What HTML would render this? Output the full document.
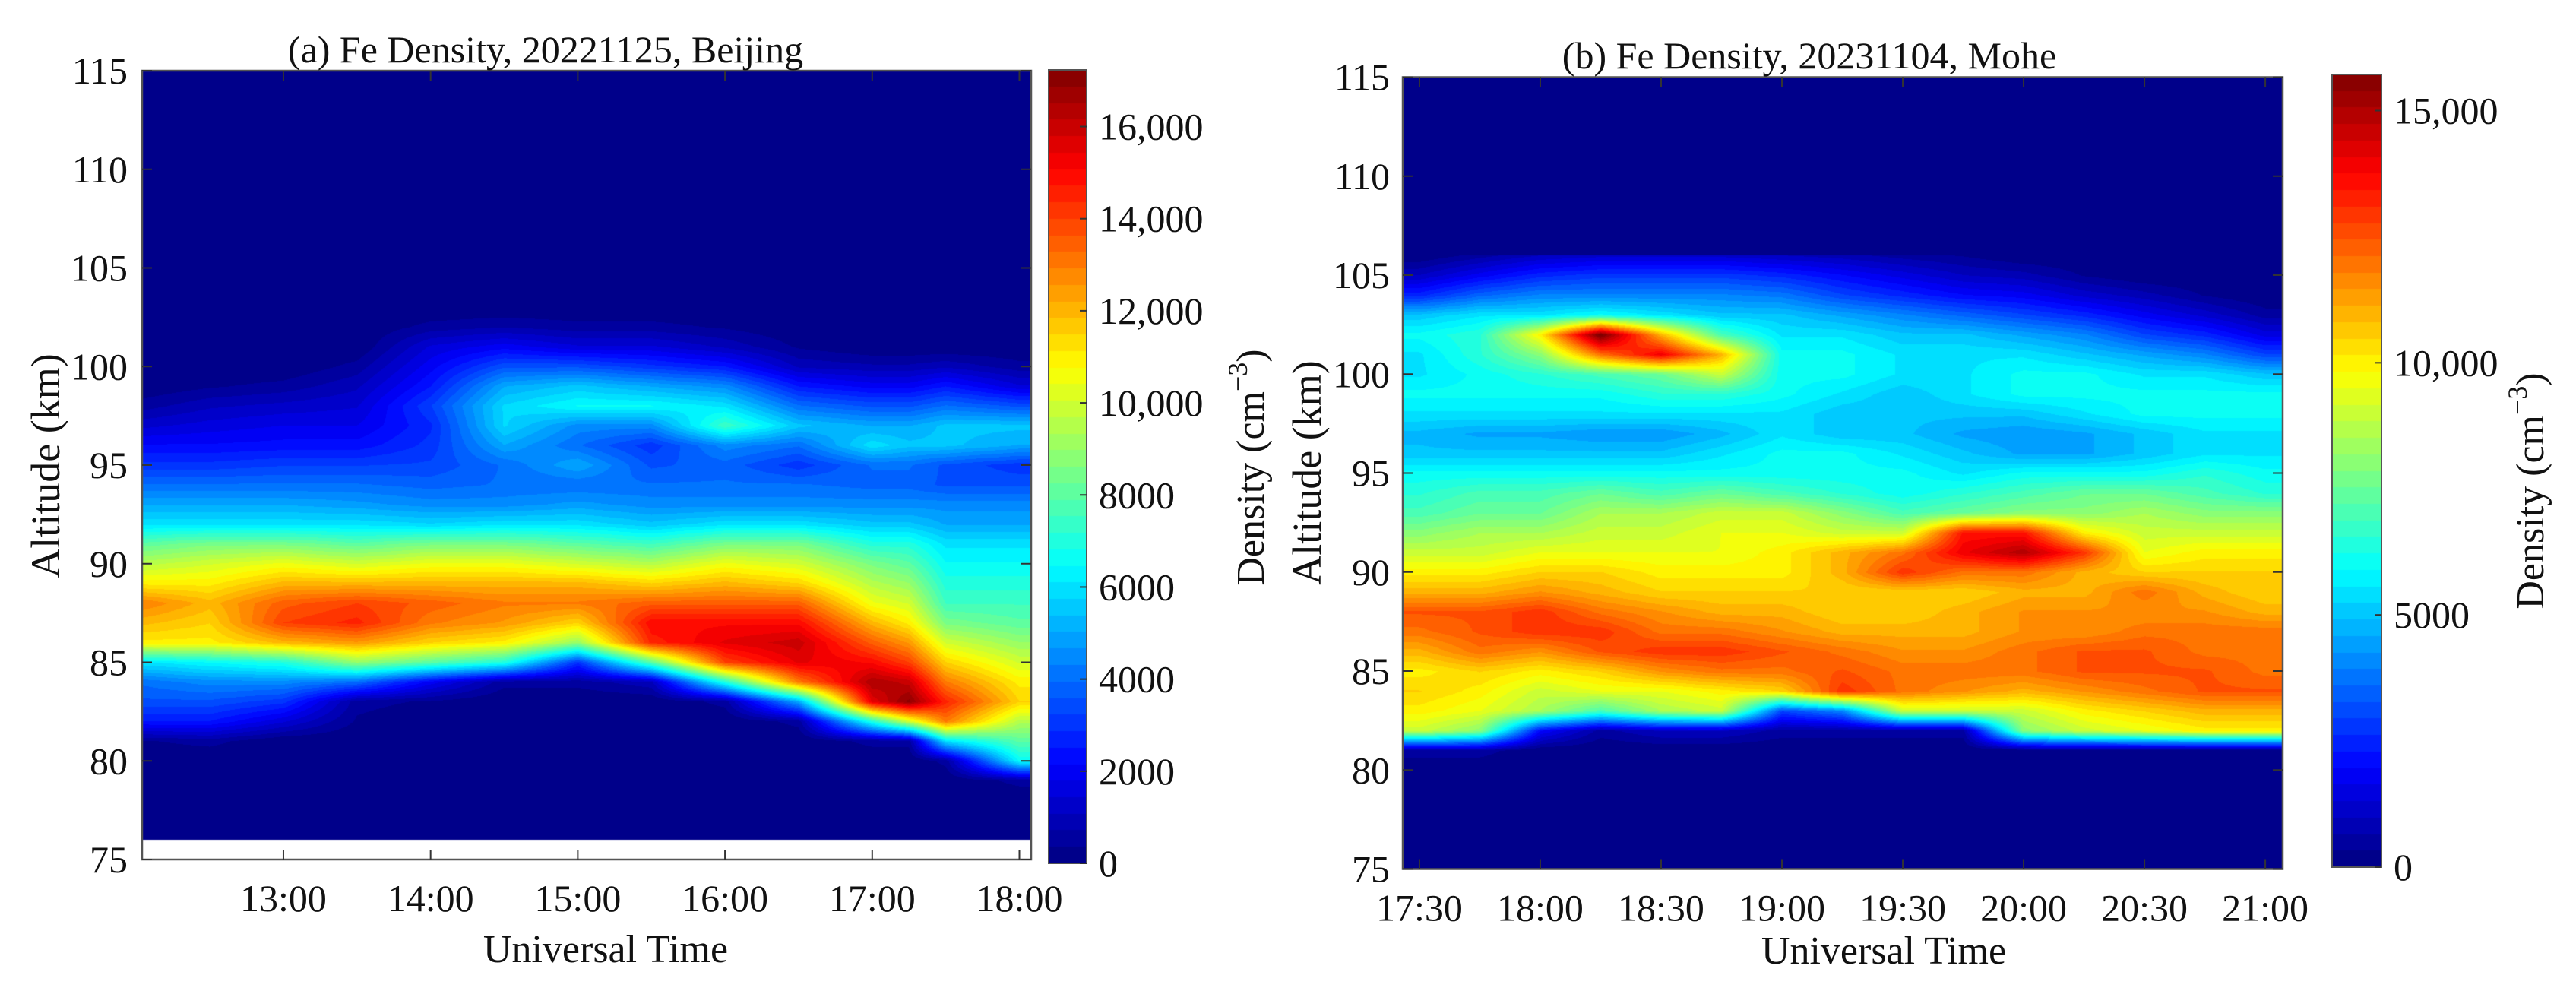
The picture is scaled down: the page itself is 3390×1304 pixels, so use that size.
<!DOCTYPE html>
<html><head><meta charset="utf-8"><title>Fe Density</title>
<style>
html,body{margin:0;padding:0;background:#fff;}
#wrap{position:relative;width:3390px;height:1304px;overflow:hidden;background:#fff;}
canvas{position:absolute;}
svg{position:absolute;left:0;top:0;}
text{font-family:"Liberation Serif",serif;fill:#111;}
</style></head>
<body>
<div id="wrap">
<canvas id="cA"></canvas>
<canvas id="cB"></canvas>
<canvas id="cbA"></canvas>
<canvas id="cbB"></canvas>
<svg id="ov" width="3390" height="1304"></svg>
</div>
<script>
// ---------- Data: panel (a) Beijing, density in thousands cm^-3 ----------
const leftTimes = [12.0,12.5,13.0,13.5,14.0,14.5,15.0,15.5,16.0,16.5,17.0,17.25,17.5,18.0];
const leftAlts = [78,79,80,81,82,83,84,85,86,87,88,89,90,91,92,93,94,95,96,97,98,99,100,101,102,103,104];
const leftDensity = [
 [0,0,0,0.3,2.5,3.5,4,6,11,12,13,11,9.5,8,6,5,4,3,2.2,1.3,0.5,0,0,0,0,0,0],
 [0,0,0,0.5,2.5,3.5,4.5,6.5,11,11.5,12,11,10,8.5,6,5,4,3,2.2,1.6,1,0.3,0,0,0,0,0],
 [0,0,0,0,1.5,3,4.5,7,12,14,13.5,12,10.5,8.5,6,5,4,3.2,2.3,1.8,1.2,0.5,0,0,0,0,0],
 [0,0,0,0,0.3,0.5,4,9,12.5,14.5,14,12,10,8,6,4.8,4,3.2,2.3,1.8,1.4,1,0.5,0,0,0,0],
 [0,0,0,0,0,0.3,2,8,11.5,13,13.5,12,10.5,8.5,5.8,4.5,3.8,3.3,3,2.8,3.2,2.5,2,1.5,0.5,0,0],
 [0,0,0,0,0,0,0.5,7,11,12.5,13,12,10.5,8.5,6,4.5,4,4,5,5.8,5.8,5,3.5,2,0.7,0,0],
 [0,0,0,0,0,0,0.5,3,9,11.5,13,12,10,8,6,4.8,4,5,4,4.5,6.5,5.5,3.5,1.5,0.5,0,0],
 [0,0,0,0,0,0,1,8,14.5,15,13.5,11.5,9.5,7.5,5.5,4.5,4,3.5,3,4.5,6.5,5,3,1.5,0.5,0,0],
 [0,0,0,0,0,0.5,7,14,15.5,15,13.5,12,10.5,8.5,6,4.5,4,3.8,4.5,7.5,6,4.5,2.5,1,0.3,0,0],
 [0,0,0,0,0.5,5,13,15.5,16,15,13.5,11.5,10,8.5,6,4.5,4,3,4,5.5,4,2.5,1,0.3,0,0,0],
 [0,0,0,0.5,7,15.5,16.5,15,13.5,12,10.5,9.5,8.5,7,5.5,4.5,3.8,4,6,5,3.5,2,0.8,0,0,0,0],
 [0,0,0,0.5,10,17,16,14,12.5,11,10,9,8,7,5.5,4.5,3.8,4,5.5,5,3.5,2,0.8,0,0,0,0],
 [0,0,0.5,6,13,14.5,13,11.5,10,8.5,7.5,7,6.5,6,5,4.5,3.5,3.5,5.5,5.5,4,2.5,1,0,0,0,0],
 [0,0.5,6.5,8,9.5,11.5,11,10,9,8,7.5,7,6.5,6,5,4.5,3.5,3,5,5.5,3.5,1.5,0.5,0,0,0,0]
];
const leftXTicks = [13,14,15,16,17,18];
const leftXTickLabels = ["13:00","14:00","15:00","16:00","17:00","18:00"];
const leftCbTicks = [0,2000,4000,6000,8000,10000,12000,14000,16000];
const leftCbLabels = ["0","2000","4000","6000","8000","10,000","12,000","14,000","16,000"];

// ---------- Data: panel (b) Mohe ----------
const rightTimes = [17.5,17.75,18.0,18.25,18.5,18.75,19.0,19.25,19.5,19.75,20.0,20.25,20.5,20.75,21.0];
const rightAlts = [80,81,82,83,84,85,86,87,88,89,90,91,92,93,94,95,96,97,98,99,100,101,102,103,104,105,106];
const rightDensity = [
 [0,0.5,9,10,10.5,10,11,12,12.5,11,10,9,8,7,6.5,6,5,4.8,5.5,6,5.5,5.5,6,5,2.5,1,0],
 [0,0.5,8,9.5,10,10.5,12,12.5,12.5,11,10,9,8.5,7.5,7,6,5,4.5,5.5,6,6,6.5,6.5,5.5,3.5,1.8,0.5],
 [0,0,2,8.5,9,10,11.5,13,13,11.5,10.5,9.5,8.5,7.5,7,6,5,4.5,5.5,6,6.5,8,10,5.5,4,2.5,1],
 [0,0,0.5,7,9.5,10.5,12.5,13,12,11,10.5,9.5,9,8.5,7.5,6,5,4.3,5.5,6,7,12,16,6,4,2.8,1.2],
 [0,0,1,8.5,9.5,11.5,13,12,11.5,10.5,10,9.5,9,8.5,7,6,5,4.3,5.5,6.5,7.5,14,11,5.5,4,2.8,1.2],
 [0,0,1,9,10,12,13,12,11,10.5,10,9.5,9.5,9,7.5,6,5.5,4.8,5.5,6.5,9,11,7,5,4,2.8,1.2],
 [0,0,0.5,3,10.5,12,12.5,11.5,11,10.5,10,10,9.5,9,7,6,6,5.5,5.5,6,6,6,5.5,5,3.8,2.5,1],
 [0,0,0.5,4,13,12.5,12,11,10.5,10.5,11,11,9,8,6.5,6,6,5,5,5.5,6,6,5.5,4.5,3,2,0.8],
 [0,0,0.5,9,12,12,11.5,11,10.5,10.5,13,12,9,7,6,6,5.5,5,5,5,5.5,5.5,5,4,2.5,1.5,0.5],
 [0,0,0.5,9,11.5,12,11.5,11,11,10.5,12,14,13.5,7.5,6.5,5.5,5,4.5,5,5.5,5.5,5.5,5,3.5,2,1,0.3],
 [0,0,8,9,11,12,12,11.5,11.5,11,12,15,13.5,8,7,6,4.5,4.3,5,6,6,5.5,4.5,3,1.8,0.8,0],
 [0,0,9,10,11.5,12.5,12.5,11.5,11.5,11,11,13,10,8,7.5,6,4.5,4.5,5.5,6,6,5,4,2.5,1.2,0.3,0],
 [0,0,9.5,10.5,12,12.5,12.5,12,11.5,12,10.5,9.5,9,8.5,7.5,6,5,5,6,6,5.5,4.5,3,1.8,0.8,0,0],
 [0,0,10,11,12.5,12.5,12,12,11.5,11,10.5,10,9,8,7,6.5,5.5,5.5,6,6,5.5,4,2.5,1.2,0.3,0,0],
 [0,0,10,11,12.5,12,12,12,11,10.5,10.5,10,9,8,6.5,6,5.5,5.5,6,6,5,3,1.5,0.5,0,0,0]
];
const rightXTicks = [17.5,18,18.5,19,19.5,20,20.5,21];
const rightXTickLabels = ["17:30","18:00","18:30","19:00","19:30","20:00","20:30","21:00"];
const rightCbTicks = [0,5000,10000,15000];
const rightCbLabels = ["0","5000","10,000","15,000"];
const yTicks = [75,80,85,90,95,100,105,110,115];

// ---------- Layout ----------
const PA = {x0:187,x1:1357,y0:93,y1:1131,t0:12.04,t1:18.08,dataMin:76,vmax:17.23,
  cb:{x0:1380,x1:1430,y0:92,y1:1136}};
const PB = {x0:1846,x1:3004,y0:101.5,y1:1143.5,t0:17.431,t1:21.072,dataMin:75,vmax:15.716,
  cb:{x0:3069,x1:3134,y0:98,y1:1141}};
const LEVELS = 48;
const FONT = '"Liberation Serif", serif';

function jet(v){
  const c=x=>Math.max(0,Math.min(1,x));
  return [c(1.5-Math.abs(4*v-3))*255, c(1.5-Math.abs(4*v-2))*255, c(1.5-Math.abs(4*v-1))*255];
}
function interp1(arr, v){
  if(v<=arr[0]) return [0,0];
  const n=arr.length;
  if(v>=arr[n-1]) return [n-2,1];
  for(let i=0;i<n-1;i++){ if(v<=arr[i+1]) return [i,(v-arr[i])/(arr[i+1]-arr[i])]; }
  return [n-2,1];
}
function sample(times, alts, grid, t, a){
  if(a<alts[0]||a>alts[alts.length-1]) return 0;
  const [i,ft]=interp1(times,t), [j,fa]=interp1(alts,a);
  const v00=grid[i][j], v01=grid[i][j+1], v10=grid[i+1][j], v11=grid[i+1][j+1];
  return (v00*(1-fa)+v01*fa)*(1-ft)+(v10*(1-fa)+v11*fa)*ft;
}
function drawHeat(id, P, times, alts, grid){
  const cv=document.getElementById(id);
  const w=Math.round(P.x1-P.x0), h=Math.round(P.y1-P.y0);
  cv.width=w; cv.height=h; cv.style.left=P.x0+'px'; cv.style.top=P.y0+'px';
  const ctx=cv.getContext('2d'); const img=ctx.createImageData(w,h); const d=img.data;
  for(let y=0;y<h;y++){
    const a=115-(y+0.5)/h*40;
    for(let x=0;x<w;x++){
      const k=(y*w+x)*4;
      if(a<P.dataMin){d[k]=d[k+1]=d[k+2]=255;d[k+3]=255;continue;}
      const t=P.t0+(x+0.5)/w*(P.t1-P.t0);
      let v=sample(times,alts,grid,t,a)/P.vmax;
      v=Math.max(0,Math.min(1,Math.floor(v*LEVELS)/LEVELS+0.5/LEVELS));
      const c=jet(v); d[k]=c[0];d[k+1]=c[1];d[k+2]=c[2];d[k+3]=255;
    }
  }
  ctx.putImageData(img,0,0);
}
function drawCb(id, cb){
  const cv=document.getElementById(id);
  const w=cb.x1-cb.x0, h=cb.y1-cb.y0;
  cv.width=w; cv.height=h; cv.style.left=cb.x0+'px'; cv.style.top=cb.y0+'px';
  const ctx=cv.getContext('2d');
  for(let y=0;y<h;y++){
    let v=1-(y+0.5)/h; v=Math.floor(v*LEVELS)/LEVELS+0.5/LEVELS;
    const c=jet(v); ctx.fillStyle=`rgb(${c[0]|0},${c[1]|0},${c[2]|0})`; ctx.fillRect(0,y,w,1);
  }
}
drawHeat('cA',PA,leftTimes,leftAlts,leftDensity);
drawHeat('cB',PB,rightTimes,rightAlts,rightDensity);
drawCb('cbA',PA.cb); drawCb('cbB',PB.cb);

// ---------- Axes overlay ----------
const NS='http://www.w3.org/2000/svg';
const ov=document.getElementById('ov');
function mk(tag, attrs, parent){
  const e=document.createElementNS(NS,tag);
  for(const k in attrs) e.setAttribute(k,attrs[k]);
  (parent||ov).appendChild(e); return e;
}
function txt(s,x,y,size,anchor,name){
  const e=mk('text',{x:x,y:y,'font-size':size,'text-anchor':anchor||'middle','font-family':FONT,fill:'#111'});
  e.textContent=s;
  
  
  return e;
}
function densityLabel(cx,cy,name){
  const e=mk('text',{x:0,y:0,'font-size':52,'text-anchor':'middle','font-family':FONT,fill:'#111',transform:`translate(${cx},${cy}) rotate(-90)`});
  
  
  const t1=mk('tspan',{},e); t1.textContent='Density (cm';
  const t2=mk('tspan',{dy:-22,'font-size':36},e); t2.textContent='\u22123';
  const t3=mk('tspan',{dy:22},e); t3.textContent=')';
}
function axes(P, xt, xl, cbTicks, cbLabels, ylabRight, prefix){
  const xs=t=>P.x0+(t-P.t0)/(P.t1-P.t0)*(P.x1-P.x0);
  const ys=a=>P.y0+(115-a)/40*(P.y1-P.y0);
  const box=mk('rect',{x:P.x0,y:P.y0,width:P.x1-P.x0,height:P.y1-P.y0,fill:'none',stroke:'#555','stroke-width':2.5});
  
  
  xt.forEach((t,i)=>{
    const x=xs(t);
    const tk=mk('line',{x1:x,x2:x,y1:P.y1,y2:P.y1-13,stroke:'#333','stroke-width':2});
    
    
    const tk2=mk('line',{x1:x,x2:x,y1:P.y0,y2:P.y0+13,stroke:'#333','stroke-width':2});
    
    
    txt(xl[i],x,P.y1+68,50,'middle',prefix+'-x-tick-label');
  });
  yTicks.forEach(a=>{
    const y=ys(a);
    const tk=mk('line',{x1:P.x0,x2:P.x0+13,y1:y,y2:y,stroke:'#333','stroke-width':2});
    
    
    const tk2=mk('line',{x1:P.x1,x2:P.x1-13,y1:y,y2:y,stroke:'#333','stroke-width':2});
    
    
    txt(String(a),ylabRight,y+17,50,'end',prefix+'-y-tick-label');
  });
  const cb=P.cb;
  const cbr=mk('rect',{x:cb.x0,y:cb.y0,width:cb.x1-cb.x0,height:cb.y1-cb.y0,fill:'none',stroke:'#555','stroke-width':2});
  
  
  cbTicks.forEach((v,i)=>{
    const y=cb.y1-v/(P.vmax*1000)*(cb.y1-cb.y0);
    const tk=mk('line',{x1:cb.x1,x2:cb.x1-9,y1:y,y2:y,stroke:'#333','stroke-width':2});
    
    
    txt(cbLabels[i],cb.x1+16,y+17,50,'start',prefix+'-colorbar-label');
  });
}
axes(PA,leftXTicks,leftXTickLabels,leftCbTicks,leftCbLabels,168,'a');
axes(PB,rightXTicks,rightXTickLabels,rightCbTicks,rightCbLabels,1829,'b');

txt('(a)  Fe Density, 20221125, Beijing',718,82,50,'middle','title-a');
txt('(b)  Fe Density, 20231104, Mohe',2381,90,50,'middle','title-b');
txt('Universal Time',797,1266,52,'middle','x-axis-title-a');
txt('Universal Time',2479,1268,52,'middle','x-axis-title-b');
const ya=mk('text',{x:0,y:0,'font-size':54,'text-anchor':'middle','font-family':FONT,fill:'#111',transform:'translate(78,613) rotate(-90)'});
ya.textContent='Altitude (km)';


const yb=mk('text',{x:0,y:0,'font-size':54,'text-anchor':'middle','font-family':FONT,fill:'#111',transform:'translate(1738,622) rotate(-90)'});
yb.textContent='Altitude (km)';


densityLabel(1663,615,'colorbar-title-a');
densityLabel(3347,646,'colorbar-title-b');
</script>
</body></html>
